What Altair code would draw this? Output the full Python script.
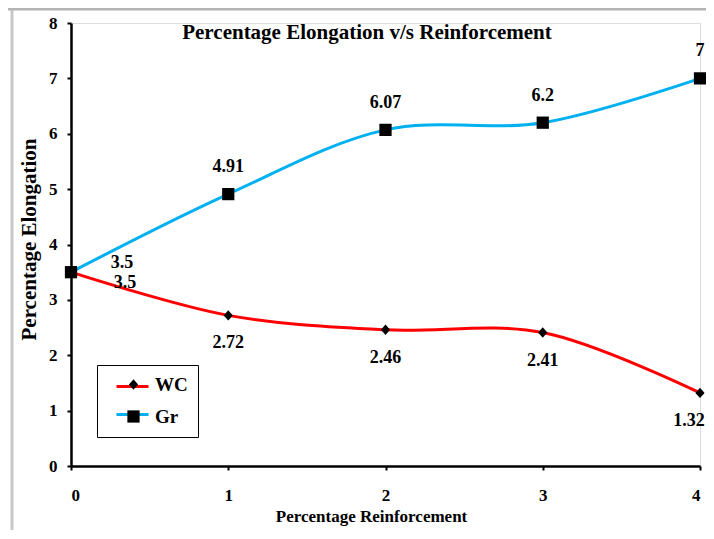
import altair as alt
import pandas as pd

# ---- data ----
reinforcement = [0, 1, 2, 3, 4]
series_names = ["WC", "Gr"]
marker_names = ["WC ", "Gr "]
wc_values = [3.5, 2.72, 2.46, 2.41, 1.32]
gr_values = [3.5, 4.91, 6.07, 6.2, 7]
wc_labels = ["3.5", "2.72", "2.46", "2.41", "1.32"]
gr_labels = ["3.5", "4.91", "6.07", "6.2", "7"]
x_ticks = [0, 1, 2, 3, 4]
y_ticks = [0, 1, 2, 3, 4, 5, 6, 7, 8]

rows = []
for xv, v, lab in zip(reinforcement, wc_values, wc_labels):
    rows.append({"series": "WC", "marker": marker_names[0], "x": xv, "y": v, "label": lab})
for xv, v, lab in zip(reinforcement, gr_values, gr_labels):
    rows.append({"series": "Gr", "marker": marker_names[1], "x": xv, "y": v, "label": lab})
df = pd.DataFrame(rows)

FONT = "Liberation Serif"
DIAMOND = "M0,-0.85L0.75,0L0,0.85L-0.75,0Z"

x_enc = alt.X(
    "x:Q",
    scale=alt.Scale(domain=[0, 4], nice=False, zero=False),
    axis=alt.Axis(
        values=x_ticks, format="d", title="Percentage Reinforcement",
        grid=False, domainColor="black", domainWidth=2.5,
        tickColor="black", tickWidth=2, tickSize=4,
        labelFont=FONT, labelFontWeight="bold", labelFontSize=17, labelColor="black",
        labelPadding=17,
        titleFont=FONT, titleFontWeight="bold", titleFontSize=17, titleColor="black",
        titlePadding=5, titleX=300,
    ),
)
y_enc = alt.Y(
    "y:Q",
    scale=alt.Scale(domain=[0, 8], nice=False),
    axis=alt.Axis(
        values=y_ticks, format="d", title="Percentage Elongation",
        grid=False, domainColor="black", domainWidth=2.5,
        tickColor="black", tickWidth=2, tickSize=4,
        labelFont=FONT, labelFontWeight="bold", labelFontSize=17, labelColor="black",
        labelPadding=10,
        titleFont=FONT, titleFontWeight="bold", titleFontSize=21, titleColor="black",
        titlePadding=9, titleY=216,
    ),
)

base = alt.Chart(df)

# line-colour legend: strokes only, no box, no labels
lines = base.mark_line(interpolate="catmull-rom", strokeWidth=3).encode(
    x=x_enc,
    y=y_enc,
    color=alt.Color(
        "series:N",
        scale=alt.Scale(domain=series_names, range=["#ff0000", "#00b0f0"]),
        legend=alt.Legend(
            title=None, orient="none", legendX=44, legendY=346,
            symbolType="stroke", symbolSize=1024, symbolStrokeWidth=3,
            padding=0, rowPadding=-1, labelOffset=2, labelExpr="''",
            labelFontSize=19, strokeColor="transparent",
        ),
    ),
)

# marker legend: draws the box and the labels
points = base.mark_point(filled=True, fill="black", opacity=1, strokeWidth=0, size=150).encode(
    x="x:Q",
    y="y:Q",
    shape=alt.Shape(
        "marker:N",
        scale=alt.Scale(domain=marker_names, range=[DIAMOND, "square"]),
        legend=alt.Legend(
            title=None, orient="none", legendX=26, legendY=342,
            symbolSize=150, symbolFillColor="black", symbolStrokeWidth=0,
            symbolOffset=17, padding=10, rowPadding=12, labelOffset=12,
            labelFont=FONT, labelFontWeight="bold", labelFontSize=19,
            labelColor="black", strokeColor="black", fillColor="transparent",
        ),
    ),
)

text_props = dict(font=FONT, fontWeight="bold", fontSize=18, color="black")

gr_text = base.transform_filter(
    (alt.datum.series == "Gr") & (alt.datum.x > 0)
).mark_text(dy=-27, **text_props).encode(x="x:Q", y="y:Q", text="label:N")

wc_text = base.transform_filter(
    (alt.datum.series == "WC") & (alt.datum.x > 0) & (alt.datum.x < 4)
).mark_text(dy=28, **text_props).encode(x="x:Q", y="y:Q", text="label:N")

wc_last = base.transform_filter(
    (alt.datum.series == "WC") & (alt.datum.x == 4)
).mark_text(dy=28, dx=-11, **text_props).encode(x="x:Q", y="y:Q", text="label:N")

gr_first = base.transform_filter(
    (alt.datum.series == "Gr") & (alt.datum.x == 0)
).mark_text(dx=51, dy=-9, **text_props).encode(x="x:Q", y="y:Q", text="label:N")

wc_first = base.transform_filter(
    (alt.datum.series == "WC") & (alt.datum.x == 0)
).mark_text(dx=54, dy=11, **text_props).encode(x="x:Q", y="y:Q", text="label:N")

title = alt.Chart(pd.DataFrame({"t": ["Percentage Elongation v/s Reinforcement"]})).mark_text(
    font=FONT, fontWeight="bold", fontSize=21, color="black", align="center", baseline="middle"
).encode(x=alt.value(296), y=alt.value(10), text="t:N")

frame_left = alt.Chart(pd.DataFrame({"a": [0]})).mark_rule(color="#c8c8c8", strokeWidth=3).encode(
    x=alt.value(-59), y=alt.value(-15), y2=alt.value(524)
)
frame_top = alt.Chart(pd.DataFrame({"a": [0]})).mark_rule(color="#b4b4b4", strokeWidth=3).encode(
    x=alt.value(-63), x2=alt.value(640), y=alt.value(-14)
)

chart = alt.layer(
    frame_left, frame_top, lines, points, gr_text, wc_text, wc_last, gr_first, wc_first, title
).properties(
    width=629, height=443,
    autosize=alt.AutoSizeParams(type="none"),
    padding={"left": 63, "top": 15, "right": 6, "bottom": 64},
).configure_view(strokeWidth=0).configure(background="white")

chart.save("out.html", embed_options={"renderer": "svg", "actions": False})
